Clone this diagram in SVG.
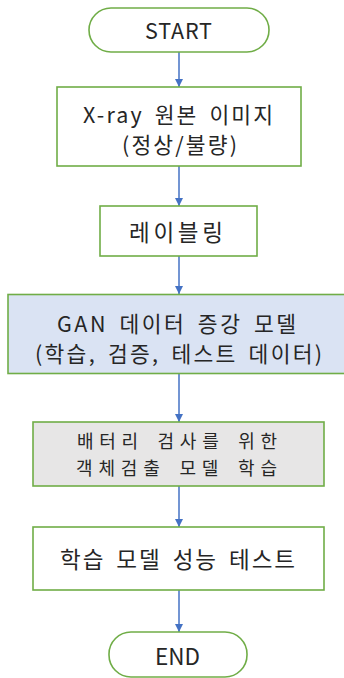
<svg xmlns="http://www.w3.org/2000/svg" width="344" height="678" viewBox="0 0 344 678">
<defs>
<marker id="ah" markerWidth="8" markerHeight="8" refX="8" refY="4" orient="auto" markerUnits="userSpaceOnUse">
<path d="M0,0 L8,4 L0,8 z" fill="#4472c4"/>
</marker>
<style>
.box{stroke:#70ad47;stroke-width:1.6;fill:#ffffff}
.blue{fill:#dae3f3}
.gray{fill:#e7e6e6}
.t{font-family:"Noto Sans CJK KR","Noto Sans",sans-serif;font-size:21.5px;fill:#262626;text-anchor:middle;dominant-baseline:central;word-spacing:4px}
.s{font-size:18px}
.l{font-size:22.5px}
.c{stroke:#4472c4;stroke-width:1.5;fill:none;marker-end:url(#ah)}
</style>
</defs>
<rect width="344" height="678" fill="#ffffff"/>
<g id="connectors">
<line class="c" x1="179" y1="52" x2="179" y2="87"/>
<line class="c" x1="179" y1="166" x2="179" y2="206"/>
<line class="c" x1="179" y1="256" x2="179" y2="294"/>
<line class="c" x1="179" y1="374" x2="179" y2="422"/>
<line class="c" x1="179" y1="486" x2="179" y2="527"/>
<line class="c" x1="179" y1="590" x2="179" y2="632"/>
</g>
<g id="start">
<rect class="box" x="89" y="8" width="180" height="44" rx="22" ry="22"/>
<text class="t" x="178.5" y="29" textLength="67" lengthAdjust="spacing">START</text>
</g>
<g id="xray">
<rect class="box" x="57" y="87" width="244" height="79"/>
<text class="t" x="178" y="113" textLength="190" lengthAdjust="spacing">X-ray 원본 이미지</text>
<text class="t" x="179.5" y="143" textLength="115" lengthAdjust="spacing">(정상/불량)</text>
</g>
<g id="labeling">
<rect class="box" x="100" y="206" width="157" height="50"/>
<text class="t l" x="176" y="231" textLength="94" lengthAdjust="spacing">레이블링</text>
</g>
<g id="gan">
<rect class="box blue" x="8" y="294.5" width="345" height="79"/>
<text class="t" x="176.5" y="322" textLength="239" lengthAdjust="spacing">GAN 데이터 증강 모델</text>
<text class="t" x="178.5" y="352" textLength="287" lengthAdjust="spacing">(학습, 검증, 테스트 데이터)</text>
</g>
<g id="detect">
<rect class="box gray" x="33" y="422" width="291" height="64"/>
<text class="t s" x="177" y="439.5" textLength="200" lengthAdjust="spacing">배터리 검사를 위한</text>
<text class="t s" x="176.5" y="466.5" textLength="201" lengthAdjust="spacing">객체검출 모델 학습</text>
</g>
<g id="test">
<rect class="box" x="33" y="527" width="291" height="63"/>
<text class="t l" x="177.5" y="558" textLength="235" lengthAdjust="spacing">학습 모델 성능 테스트</text>
</g>
<g id="end">
<rect class="box" x="109" y="632" width="138" height="45" rx="22" ry="22"/>
<text class="t l" x="177.5" y="654.5" textLength="45" lengthAdjust="spacing">END</text>
</g>
</svg>
